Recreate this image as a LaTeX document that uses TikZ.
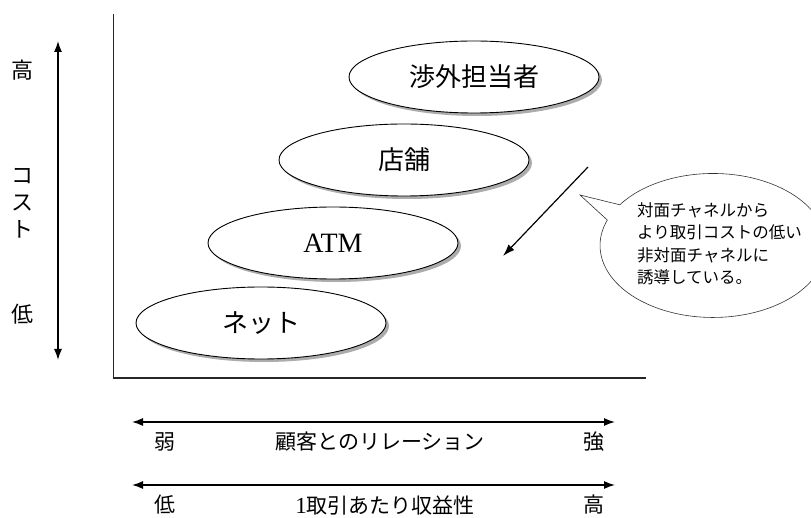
\documentclass[tikz,border=0pt]{standalone}
\usepackage{fontspec}
\newfontfamily\jp{Noto Sans CJK JP}
\newfontfamily\lat{Liberation Serif}
\usetikzlibrary{arrows.meta,shapes.geometric,shadows}
\begin{document}
\begin{tikzpicture}[x=1pt,y=-1pt,
  chan/.style={ellipse,draw=black,line width=0.9pt,fill=white,inner sep=0pt,
    minimum width=250pt,minimum height=72pt,
    drop shadow={shadow xshift=3pt,shadow yshift=-3pt,fill=gray!65,opacity=1},
    font=\jp\fontsize{26}{30}\selectfont},
  axlab/.style={inner sep=0pt,font=\jp\fontsize{22}{26}\selectfont},
  botlab/.style={inner sep=0pt,font=\jp\fontsize{21}{24}\selectfont},
  dbl/.style={line width=1.4pt,{Latex[length=11pt,width=8pt]}-{Latex[length=11pt,width=8pt]}},
  axis/.style={line width=1.6pt,draw=black!85}]
\useasboundingbox (0,0) rectangle (811,518);
% axes
\coordinate (ytop) at (113.5,14);
\coordinate (orig) at (113.5,378);
\coordinate (xend) at (646,378);
\draw[axis] (ytop) -- (orig) -- (xend);
% vertical cost arrow
\coordinate (vt) at (58,41);
\coordinate (vb) at (58,360);
\draw[dbl] (vt) -- (vb);
\node[axlab] (hi) at (22,70) {高};
\node[axlab,align=center,font=\jp\fontsize{22}{27}\selectfont] (cost) at (22,203) {コ\\ス\\ト};
\node[axlab] (lo) at (22,314) {低};
% channel ellipses
\node[chan] (shogai) at (474,77) {渉外担当者};
\node[chan] (tenpo) at (404,160) {店舗};
\node[chan,font=\lat\fontsize{28}{32}\selectfont] (atm) at (333,243) {ATM};
\node[chan] (net) at (261,323) {ネット};
% diagonal arrow
\coordinate (da) at (588,167);
\coordinate (db) at (503,256);
\draw[line width=1.2pt,-{Latex[length=12pt,width=8pt]}] (da) -- (db);
% callout bubble
\coordinate (tip) at (580,195);
\coordinate (ub) at (619.8,204.8);
\draw[line width=0.6pt,draw=black!80,fill=white]
  (ub) arc[start angle=145.6,end angle=-200.7,x radius=113pt,y radius=72pt]
  -- (tip) -- cycle;
\node[inner sep=0pt,anchor=west,align=left,font=\jp\fontsize{16.5}{22.5}\selectfont] (note) at (637,244)
  {対面チャネルから\\より取引コストの低い\\非対面チャネルに\\誘導している。};
% bottom axes
\coordinate (r1l) at (132,422);
\coordinate (r1r) at (615,422);
\draw[dbl] (r1l) -- (r1r);
\node[botlab] (weak) at (165,442) {弱};
\node[botlab] (rel) at (380,442) {顧客とのリレーション};
\node[botlab] (strong) at (594,442) {強};
\coordinate (r2l) at (132,485);
\coordinate (r2r) at (615,485);
\draw[dbl] (r2l) -- (r2r);
\node[botlab] (low2) at (165,505) {低};
\node[botlab] (prof) at (385,505) {{\lat\fontsize{23}{24}\selectfont 1}取引あたり収益性};
\node[botlab] (high2) at (594,505) {高};
\end{tikzpicture}
\end{document}
